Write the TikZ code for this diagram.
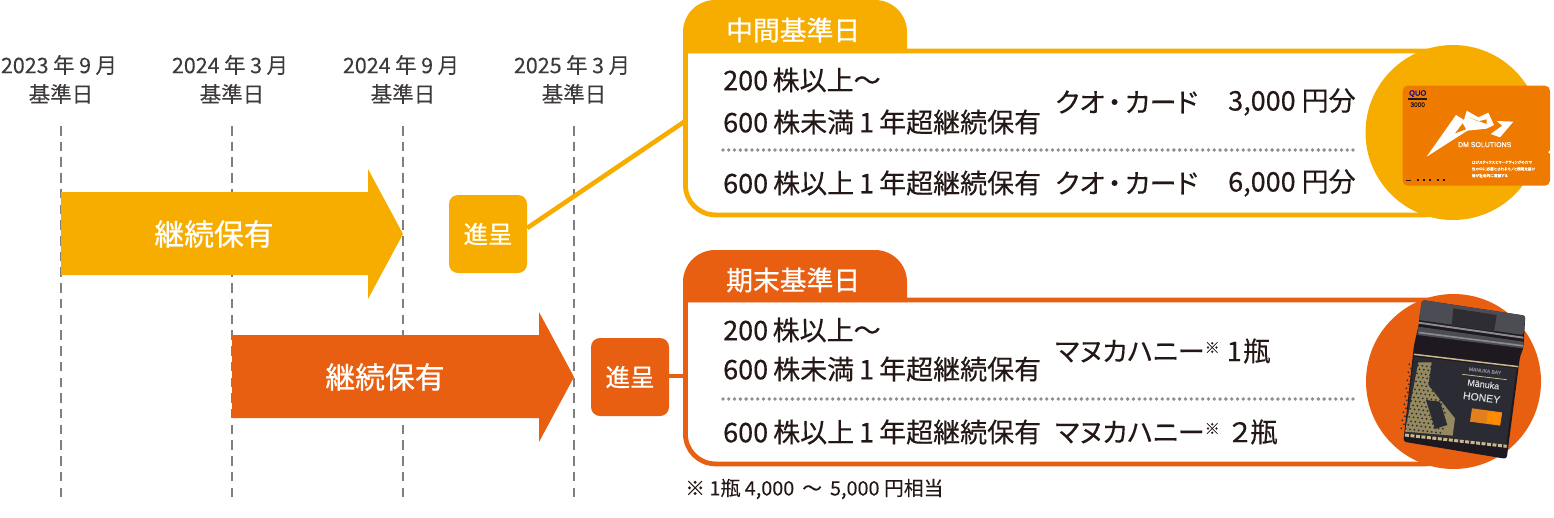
\documentclass[tikz,border=0pt]{standalone}
\usepackage{fontspec}
\setmainfont{Noto Sans CJK JP}[FakeBold=0.35,RawFeature={+palt}]
\newfontfamily\plainjp{Noto Sans CJK JP}[FakeBold=0.08]
\newfontfamily\heavyjp{Noto Sans CJK JP}[FakeBold=0.7]
\newfontfamily\latinsans{Liberation Sans}[FakeBold=0.5]
\usetikzlibrary{calc}
\definecolor{goldc}{HTML}{F6AD00}
\definecolor{rustc}{HTML}{E95F11}
\definecolor{cardc}{HTML}{EF7A00}
\definecolor{inkc}{HTML}{231815}
\definecolor{datec}{HTML}{3E3A39}
\definecolor{dashc}{HTML}{7F7F7F}
\definecolor{dotc}{HTML}{8F8F8F}
\definecolor{capa}{HTML}{4C4C54}
\definecolor{capb}{HTML}{2E2D33}
\definecolor{capc}{HTML}{8A8A90}
\definecolor{bodya}{HTML}{1E1820}
\definecolor{labela}{HTML}{2B2C33}
\definecolor{goldp}{HTML}{94895F}
\definecolor{goldl}{HTML}{C9B98A}
\newcommand{\fs}[1]{\fontsize{#1}{#1}\selectfont}
\newcommand{\gap}{\hspace{4.5pt}}
\newcommand{\quocard}{クオ\hspace{3.5pt}・\hspace{3.5pt}カード}
\tikzset{
  x=1pt,y=-1pt,
  date/.style={inner sep=0,text=datec,font=\plainjp\fs{21.5}},
  guide/.style={dashc,line width=1.6pt,dash pattern=on 9.5pt off 6.22pt},
  rowtext/.style={anchor=west,inner sep=0,text=inkc,font=\fs{27}},
  tabtext/.style={anchor=west,inner sep=0,text=white,font=\heavyjp\fs{26.8}},
  holdtext/.style={inner sep=0,text=white,font=\heavyjp\fs{29.8}},
  gift/.style={rounded corners=9pt,minimum width=78pt,minimum height=78pt,inner sep=0,text=white,font=\heavyjp\fs{24.5}},
  panelbox/.style={minimum width=770pt,inner sep=0,anchor=north west},
  panelline/.style={fill=white,line width=4.8pt},
  dotline/.style={dotc,line width=3.8pt,line cap=round,dash pattern=on 0pt off 5.78pt},
}
\begin{document}
\begin{tikzpicture}
\useasboundingbox (0,0) rectangle (1554,517);
% guides
\coordinate (g1t) at (61,126); \coordinate (g1b) at (61,497);
\coordinate (g2t) at (232,126); \coordinate (g2b) at (232,497);
\coordinate (g3t) at (403,126); \coordinate (g3b) at (403,497);
\coordinate (g4t) at (574,126); \coordinate (g4b) at (574,497);
\foreach \g in {1,2,3,4} \draw[guide] (g\g t) -- (g\g b);
% dates
\node[date] (d1a) at (59,65) {2023\gap 年\gap 9\gap 月};
\node[date] (d1b) at (61,94) {基準日};
\node[date] (d2a) at (230,65) {2024\gap 年\gap 3\gap 月};
\node[date] (d2b) at (232,94) {基準日};
\node[date] (d3a) at (401,65) {2024\gap 年\gap 9\gap 月};
\node[date] (d3b) at (403,94) {基準日};
\node[date] (d4a) at (572,65) {2025\gap 年\gap 3\gap 月};
\node[date] (d4b) at (574,94) {基準日};
% arrows
\fill[goldc] (61,192) -- (368,192) -- (368,169) -- (403,234) -- (368,299) -- (368,275) -- (61,275) -- cycle;
\node[holdtext] (holdA) at (214,234) {継続保有};
\fill[rustc] (232,335) -- (539,335) -- (539,312) -- (574,377) -- (539,442) -- (539,418) -- (232,418) -- cycle;
\node[holdtext] (holdB) at (385,377) {継続保有};
% panels
\node[panelbox,minimum height=163.5pt] (panelA) at (685.4,51) {};
\node[panelbox,minimum height=163.5pt] (panelB) at (685.4,300) {};
\filldraw[panelline,draw=goldc] (panelA.north west) [rounded corners=30pt] -- (panelA.south west) -- (panelA.south east) [sharp corners] -- (panelA.north east) -- cycle;
\filldraw[panelline,draw=rustc] (panelB.north west) [rounded corners=30pt] -- (panelB.south west) -- (panelB.south east) [sharp corners] -- (panelB.north east) -- cycle;
% gifts and connectors
\node[gift,fill=goldc] (giftA) at (488,234) {進呈};
\node[gift,fill=rustc] (giftB) at (630,377) {進呈};
\draw[goldc,line width=4.6pt] ($(giftA.east)+(0,-6)$) -- ($(panelA.west)+(0,-12)$);
\draw[rustc,line width=4.6pt] ($(giftB.east)+(0,-1)$) -- (panelB.west |- 0,376);
% tabs
\fill[goldc] (683,53) [rounded corners=32pt] -- (683,0) -- (907,0) [sharp corners] -- (907,53) -- cycle;
\node[tabtext] (tabA) at (726,30) {中間基準日};
\fill[rustc] (683,302) [rounded corners=32pt] -- (683,250) -- (907,250) [sharp corners] -- (907,302) -- cycle;
\node[tabtext] (tabB) at (726,280) {期末基準日};
% dotted lines
\coordinate (a1) at (723,150); \coordinate (a2) at (1358,150);
\coordinate (b1) at (723,399); \coordinate (b2) at (1358,399);
\draw[dotline] (a1) -- (a2);
\draw[dotline] (b1) -- (b2);
% rows gold
\node[rowtext] (r1) at (723,80) {200\gap 株以上〜};
\node[rowtext] (r2) at (723,122) {600\hspace{5pt}株未満\hspace{5pt}1\hspace{5pt}年超継続保有};
\node[rowtext] (r3) at (723,183) {600\hspace{5pt}株以上\hspace{5pt}1\hspace{5pt}年超継続保有};
\node[rowtext] (r4) at (1055,102) {\quocard};
\node[rowtext] (r5) at (1228,102) {3,000\hspace{6pt}円分};
\node[rowtext] (r6) at (1055,183) {\quocard};
\node[rowtext] (r7) at (1228,183) {6,000\hspace{6pt}円分};
% rows rust
\node[rowtext] (s1) at (723,330) {200\gap 株以上〜};
\node[rowtext] (s2) at (723,369) {600\hspace{5pt}株未満\hspace{5pt}1\hspace{5pt}年超継続保有};
\node[rowtext] (s3) at (723,432) {600\hspace{5pt}株以上\hspace{5pt}1\hspace{5pt}年超継続保有};
\node[rowtext] (s4) at (1055,351) {マヌカハニー\raisebox{8pt}{\fs{15}※}\hspace{7pt}1\hspace{1.5pt}瓶};
\node[rowtext] (s5) at (1055,432) {マヌカハニー\raisebox{8pt}{\fs{15}※}\hspace{10pt}２瓶};
\node[anchor=west,inner sep=0,text=inkc,font=\plainjp\fs{19.8}] (note) at (685,489) {※\gap 1瓶\gap 4,000\hspace{8pt}〜\hspace{8pt}5,000\gap 円相当};
% circles
\fill[goldc] (1453,132.5) circle (87.5);
\fill[rustc] (1453.5,381.5) circle (87.5);
% card
\begin{scope}[shift={(1340,30)},x=0.3333pt,y=-0.3333pt]
\fill[cardc,rounded corners=5pt] (188,167) rectangle (630,467);
\fill[white] (630,372) arc[start angle=90,end angle=270,radius=5.5] -- cycle;
\fill[white] (260,380) -- (348,255) -- (372,270) -- (380,242) -- (415,262) -- (445,248) -- (462,285) -- (440,296) -- (382,302) -- cycle;
\fill[cardc] (345,310) -- (368,280) -- (378,298) -- cycle;
\fill[cardc] (385,262) -- (440,282) -- (440,268) -- (415,274) -- cycle;
\fill[white] (470,273) -- (520,275) -- (480,322) -- (452,312) -- (487,287) -- cycle;
\node[inner sep=0,text=white,font=\latinsans\fs{7}] (dm) at (434,344) {DM SOLUTIONS};
\node[inner sep=0,text=blue!60!black,font=\latinsans\fs{7.5}] (quo) at (233,191) {QUO};
\fill[inkc] (205,205) rectangle (260,211);
\node[inner sep=0,text=inkc,font=\latinsans\fs{6.5}] (val) at (233,224) {3000};
\node[anchor=west,inner sep=0,text=white,font=\fs{3.7}] (c1) at (395,397) {ロジスティクスとマーケティングの力で};
\node[anchor=west,inner sep=0,text=white,font=\fs{3.7}] (c2) at (395,417) {世の中に必要とされるモノと情報を届け};
\node[anchor=west,inner sep=0,text=white,font=\fs{3.7}] (c3) at (395,437) {皆が社会的に貢献する};
\fill[inkc] (198,449) rectangle (212,453);
\foreach \p in {230,250,268,290,310} \fill[inkc] (\p,447) rectangle ++(6,7);
\end{scope}
% jar
\begin{scope}[shift={(1340,285)},x=0.3333pt,y=-0.3333pt]
\fill[bodya,rounded corners=3pt] (246,45) -- (556,92) -- (550,190) -- (540,215) -- (500,522) -- (190,470) -- (222,180) -- (235,125) -- cycle;
\fill[capa,rounded corners=2pt] (246,45) -- (556,92) -- (550,150) -- (236,105) -- cycle;
\fill[capb] (340,70) -- (470,90) -- (462,140) -- (335,122) -- cycle;
\fill[capa] (235,125) -- (550,170) -- (548,190) -- (232,150) -- cycle;
\fill[capc] (236,110) -- (550,155) -- (550,161) -- (236,116) -- cycle;
\fill[capc] (236,140) -- (550,180) -- (550,185) -- (236,145) -- cycle;
\fill[labela] (222,215) -- (530,250) -- (498,482) -- (195,445) -- cycle;
\draw[goldl,line width=1.5pt] (222,208) -- (535,245);
% fern
\fill[goldp] (235,232) -- (275,232) -- (265,300) -- (345,400) -- (338,452) -- (195,440) -- cycle;
\fill[labela] (258,345) -- (300,350) -- (322,420) -- (285,432) -- cycle;
\foreach \i in {0,...,9} \foreach \j in {0,...,16}
  \fill[labela] ({208+\i*13-\j*1.5+mod(\j,2)*6},{238+\j*12+\i*1.5}) circle (1pt);
\draw[goldl,line width=3pt,dash pattern=on 4pt off 1.5pt] (195,450) -- (500,484);
\node[rotate=-7,inner sep=0,text=capc,font=\latinsans\fs{5}] (brand) at (435,258) {MANUKA BAY};
\draw[goldl,line width=0.8pt] (367,268) -- (500,284);
\node[rotate=-7,inner sep=0,text=black!15,font=\latinsans\fs{9}] (man) at (430,298) {Mānuka};
\node[rotate=-7,inner sep=0,text=black!15,font=\latinsans\fs{10.5}] (hon) at (425,338) {HONEY};
\fill[orange!55!brown] (396,370) -- (486,382) -- (480,422) -- (390,410) -- cycle;
\fill[orange!90!yellow] (443,380) -- (486,385) -- (480,420) -- (440,414) -- cycle;
\end{scope}
\end{tikzpicture}
\end{document}
